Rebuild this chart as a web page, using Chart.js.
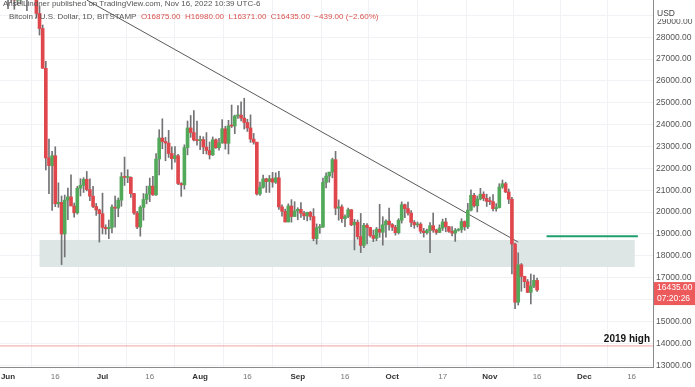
<!DOCTYPE html>
<html>
<head>
<meta charset="utf-8">
<script src="https://cdn.jsdelivr.net/npm/chart.js@4.4.1/dist/chart.umd.min.js"></script>
<style>
  html, body { margin: 0; padding: 0; background: #fff; }
  #wrap { position: relative; width: 695px; height: 387px; overflow: hidden; }
  .hdr { position: absolute; font-family: "Liberation Sans", Arial, sans-serif; font-size: 8px; color: #555; white-space: nowrap; line-height: 9px; }
  .red { color: #d9534f; }
</style>
</head>
<body>
<div id="wrap">
  <canvas id="btc" width="695" height="387"></canvas>
  <div class="hdr" style="left:3px; top:-1px;">AnselLindner published on TradingView.com, Nov 16, 2022 10:39 UTC-6</div>
  <div class="hdr" style="left:9px; top:12px;">Bitcoin / U.S. Dollar, 1D, BITSTAMP&nbsp;&nbsp;<span class="red">O16875.00&nbsp;&nbsp;H16980.00&nbsp;&nbsp;L16371.00&nbsp;&nbsp;C16435.00&nbsp;&nbsp;−439.00 (−2.60%)</span></div>
</div>
<script>
// daily candles, day 0 = 1 Jun 2022, last = 16 Nov 2022
const opens = [
  31790, 29800, 30450, 29700, 29860, 29900, 31370, 31130, 30200, 30100,
  29090, 28400, 26580, 22480, 22130, 22580, 20380, 20450, 19000, 20550,
  20700, 20280, 19970, 21090, 21230, 21500, 21030, 20730, 20260, 20100,
  19930, 19300, 19240, 19300, 20230, 20180, 20550, 21620, 21590, 21590,
  20850, 19960, 19320, 20220, 20580, 20830, 21190, 20790, 22430, 23390,
  23230, 23160, 22680, 22450, 22580, 21310, 21250, 22950, 23850, 23640,
  23300, 23270, 23320, 22980, 22820, 22620, 23310, 22950, 23170, 23810,
  23150, 23950, 23940, 24400, 24440, 24300, 24100, 23850, 23340, 23200,
  20830, 21140, 21520, 21400, 21530, 21370, 21570, 20240, 20040, 19550,
  20280, 19800, 20050, 20130, 19950, 19830, 19990, 19800, 18790, 19290,
  19320, 21360, 21650, 21830, 22400, 20180, 20240, 19700, 19800, 20110,
  19420, 19540, 18880, 18480, 19400, 19300, 18930, 18800, 19220, 19080,
  19420, 19590, 19430, 19310, 19060, 19630, 20340, 20160, 19960, 19530,
  19420, 19450, 19130, 19060, 19160, 19380, 19180, 19070, 19270, 19550,
  19330, 19120, 19040, 19170, 19210, 19570, 19330, 20090, 20770, 20290,
  20600, 20820, 20630, 20490, 20480, 20160, 20210, 21150, 21300, 20920,
  20590, 18540, 15880, 17590, 17060, 16820, 16330, 16620, 16875
];
const highs = [
  31960, 30650, 30680, 29950, 30180, 31690, 31550, 31320, 30640, 30330,
  29430, 28560, 26900, 23340, 22780, 22990, 21340, 20740, 20780, 21100,
  21710, 20410, 21180, 21530, 21580, 21860, 21520, 21180, 20400, 20140,
  20870, 19420, 19640, 20330, 20740, 20650, 21810, 22520, 21940, 21620,
  20860, 20040, 20290, 20850, 21190, 21560, 21640, 22680, 23770, 24270,
  23420, 23740, 22990, 23000, 22650, 21350, 23080, 24170, 24420, 24640,
  24170, 23480, 23450, 23640, 23210, 23440, 23350, 23380, 24230, 23930,
  24200, 24900, 24440, 24880, 25050, 25210, 24250, 24450, 23600, 23200,
  21370, 21690, 21550, 21680, 21820, 21800, 21870, 20330, 20140, 20380,
  20570, 20480, 20200, 20440, 20040, 20000, 20040, 20160, 19460, 19440,
  21560, 21800, 21830, 22470, 22780, 20560, 20330, 19880, 20180, 20120,
  19670, 19640, 19940, 19490, 19480, 19310, 19180, 19300, 20360, 19790,
  19650, 20190, 19480, 19400, 19700, 20470, 20370, 20460, 20070, 19620,
  19550, 19520, 19260, 19230, 19520, 19960, 19220, 19420, 19680, 19720,
  19350, 19340, 19250, 19250, 19700, 19600, 20400, 21020, 20860, 20740,
  21090, 20930, 20820, 20690, 20800, 20390, 21300, 21470, 21370, 21060,
  20680, 18590, 18140, 17650, 17070, 16920, 17170, 17120, 16980
];
const lows = [
  29310, 29580, 29280, 29490, 29520, 29880, 29220, 29870, 29940, 28880,
  28100, 26580, 21930, 20850, 20080, 20250, 20220, 17600, 17950, 19650,
  20360, 19770, 19910, 20740, 20900, 20970, 20520, 20200, 19850, 18630,
  19000, 18990, 18790, 19050, 19310, 19790, 20270, 21220, 21350, 20670,
  19900, 19240, 18900, 19630, 20380, 20480, 20770, 20760, 21700, 22900,
  22350, 22500, 21960, 22280, 21260, 20720, 21050, 22620, 23420, 23260,
  23060, 22860, 22670, 22660, 22430, 22590, 22920, 22840, 23150, 22880,
  22660, 23870, 23590, 24290, 24170, 23800, 23690, 23190, 23110, 20780,
  20760, 21100, 20900, 20900, 21140, 21310, 20130, 19820, 19550, 19550,
  19540, 19800, 19650, 19760, 19650, 19600, 19640, 18690, 18540, 19030,
  19300, 21110, 21370, 21570, 19880, 19630, 19530, 19330, 19750, 19380,
  18270, 18760, 18150, 18380, 18550, 18860, 18650, 18690, 18850, 18490,
  18850, 19180, 19160, 18950, 19000, 19500, 19750, 19860, 19330, 19260,
  19320, 19030, 18860, 18990, 18150, 19080, 18980, 19060, 19160, 19100,
  19070, 18910, 18660, 19130, 19070, 19170, 19250, 20060, 20230, 20010,
  20560, 20520, 20260, 20340, 20050, 20040, 20190, 21090, 20890, 20390,
  17170, 15580, 15750, 16380, 16540, 16320, 15800, 16550, 16371
];
const closes = [
  29800, 30450, 29700, 29860, 29900, 31370, 31130, 30200, 30100, 29090,
  28400, 26580, 22480, 22130, 22580, 20380, 20450, 19000, 20550, 20700,
  20280, 19970, 21090, 21230, 21500, 21030, 20730, 20260, 20100, 19930,
  19300, 19240, 19300, 20230, 20180, 20550, 21620, 21590, 21590, 20850,
  19960, 19320, 20220, 20580, 20830, 21190, 20790, 22430, 23390, 23230,
  23160, 22680, 22450, 22580, 21310, 21250, 22950, 23850, 23640, 23300,
  23270, 23320, 22980, 22820, 22620, 23310, 22950, 23170, 23810, 23150,
  23950, 23940, 24400, 24440, 24300, 24100, 23850, 23340, 23200, 20830,
  21140, 21520, 21400, 21530, 21370, 21570, 20240, 20040, 19550, 20280,
  19800, 20050, 20130, 19950, 19830, 19990, 19800, 18790, 19290, 19320,
  21360, 21650, 21830, 22400, 20180, 20240, 19700, 19800, 20110, 19420,
  19540, 18880, 18480, 19400, 19300, 18930, 18800, 19220, 19080, 19420,
  19590, 19430, 19310, 19060, 19630, 20340, 20160, 19960, 19530, 19420,
  19450, 19130, 19060, 19160, 19380, 19180, 19070, 19270, 19550, 19330,
  19120, 19040, 19170, 19210, 19570, 19330, 20090, 20770, 20290, 20600,
  20820, 20630, 20490, 20480, 20160, 20210, 21150, 21300, 20920, 20590,
  18540, 15880, 17590, 17060, 16820, 16330, 16620, 16880, 16435
];

// x axis ticks (day offsets from 1 Jun) and their labels
const tickDays = [0, 15, 30, 45, 61, 76, 92, 107, 122, 138, 153, 168, 183, 198];
const tickLabels = ['Jun', '16', 'Jul', '16', 'Aug', '16', 'Sep', '16', 'Oct', '17', 'Nov', '16', 'Dec', '16'];
const priceTicks = [13000, 14000, 15000, 16000, 17000, 18000, 19000, 20000, 21000, 22000, 23000, 24000, 25000, 26000, 27000, 28000, 29000];

// drawings
const trendDays = [25, 162];
const trendPrices = [29700, 18630];
const bandDays = [10, 199];
const bandPrices = [17490, 18725];
const targetDays = [171, 200];
const targetPrice = 18900;
const high2019 = 13880;
const lastPrice = 16435;

const UP = '#53a95a', DOWN = '#e0474c', WICK = '#737375';
const FONT = '"Liberation Sans", Arial, sans-serif';

const days = closes.map((c, i) => i);

const drawings = {
  id: 'drawings',
  beforeDatasetsDraw(chart) {
    const { ctx, scales: { x, y } } = chart;
    const x0 = x.getPixelForValue(bandDays[0]), x1 = x.getPixelForValue(bandDays[1]);
    const y0 = y.getPixelForValue(bandPrices[1]), y1 = y.getPixelForValue(bandPrices[0]);
    ctx.save();
    ctx.fillStyle = '#dde5e5';
    ctx.fillRect(x0, y0, x1 - x0, y1 - y0);
    ctx.restore();
  },
  afterDraw(chart) {
    const { ctx, chartArea, scales: { y } } = chart;
    ctx.save();
    // 2019 high label
    const hy = y.getPixelForValue(high2019);
    ctx.font = 'bold 10px ' + FONT;
    ctx.fillStyle = '#111';
    ctx.textAlign = 'right';
    ctx.textBaseline = 'alphabetic';
    ctx.fillText('2019 high', chartArea.right - 3, hy - 4);
    // last price tag on the axis
    const py = y.getPixelForValue(lastPrice);
    ctx.fillStyle = '#ec5a5c';
    ctx.fillRect(chartArea.right + 1, py - 8, 42, 23);
    ctx.fillStyle = '#fff';
    ctx.font = '8.5px ' + FONT;
    ctx.textAlign = 'left';
    ctx.textBaseline = 'middle';
    ctx.fillText(lastPrice.toFixed(2), chartArea.right + 4, py - 2);
    ctx.fillText('07:20:26', chartArea.right + 4, py + 9);
    // currency label over a half-hidden top price
    ctx.fillStyle = '#555';
    ctx.fillText('29000.00', chartArea.right + 4, 22);
    ctx.fillStyle = '#fff';
    ctx.fillRect(chartArea.right + 1, 0, 41, 19);
    ctx.fillStyle = '#444';
    ctx.fillText('USD', chartArea.right + 4, 14);
    ctx.restore();
  }
};

new Chart(document.getElementById('btc'), {
  type: 'bar',
  data: {
    datasets: [
      {
        label: 'body',
        order: 0,
        data: days.map(i => ({ x: i, y: [opens[i], closes[i]] })),
        backgroundColor: days.map(i => closes[i] >= opens[i] ? UP : DOWN),
        barThickness: 3,
        minBarLength: 1,
        grouped: false
      },
      {
        label: 'wick',
        order: 1,
        data: days.map(i => ({ x: i, y: [lows[i], highs[i]] })),
        backgroundColor: WICK,
        barThickness: 1,
        grouped: false
      },
      {
        type: 'line',
        label: 'trend',
        order: 2,
        data: trendDays.map((d, k) => ({ x: d, y: trendPrices[k] })),
        borderColor: '#5a5a5a',
        borderWidth: 1,
        pointRadius: 0
      },
      {
        type: 'line',
        label: 'target',
        order: 2,
        data: targetDays.map(d => ({ x: d, y: targetPrice })),
        borderColor: '#1f9e6e',
        borderWidth: 2,
        pointRadius: 0
      },
      {
        type: 'line',
        label: '2019 high',
        order: 3,
        data: [{ x: -5, y: high2019 }, { x: 210, y: high2019 }],
        borderColor: '#f2a3a3',
        borderWidth: 1,
        pointRadius: 0
      }
    ]
  },
  options: {
    responsive: false,
    animation: false,
    layout: { padding: 0 },
    plugins: {
      legend: { display: false },
      tooltip: { enabled: false }
    },
    scales: {
      x: {
        type: 'linear',
        min: -2.55,
        max: 204.8,
        offset: false,
        grid: { color: '#f0f2f5', drawTicks: false },
        border: { color: '#8a8a8a' },
        afterBuildTicks: s => { s.ticks = tickDays.map(v => ({ value: v })); },
        afterFit: s => { s.height = 20; s.paddingLeft = 0; s.paddingRight = 0; },
        ticks: {
          padding: 5,
          maxRotation: 0,
          autoSkip: false,
          callback: (v, i) => tickLabels[i],
          color: c => isNaN(+tickLabels[c.index]) ? '#333' : '#777',
          font: c => ({ family: FONT, size: 8, weight: isNaN(+tickLabels[c.index]) ? 'bold' : 'normal' })
        }
      },
      y: {
        position: 'right',
        min: 12916,
        max: 29704,
        grid: { color: '#f0f2f5', drawTicks: false },
        border: { color: '#8a8a8a' },
        afterBuildTicks: s => { s.ticks = priceTicks.map(v => ({ value: v })); },
        afterFit: s => { s.width = 42; s.paddingTop = 0; s.paddingBottom = 0; },
        ticks: {
          padding: 3,
          color: '#555',
          font: { family: FONT, size: 8.5 },
          callback: v => v >= 29000 ? '' : v.toFixed(2)
        }
      }
    }
  },
  plugins: [drawings]
});
</script>
</body>
</html>
